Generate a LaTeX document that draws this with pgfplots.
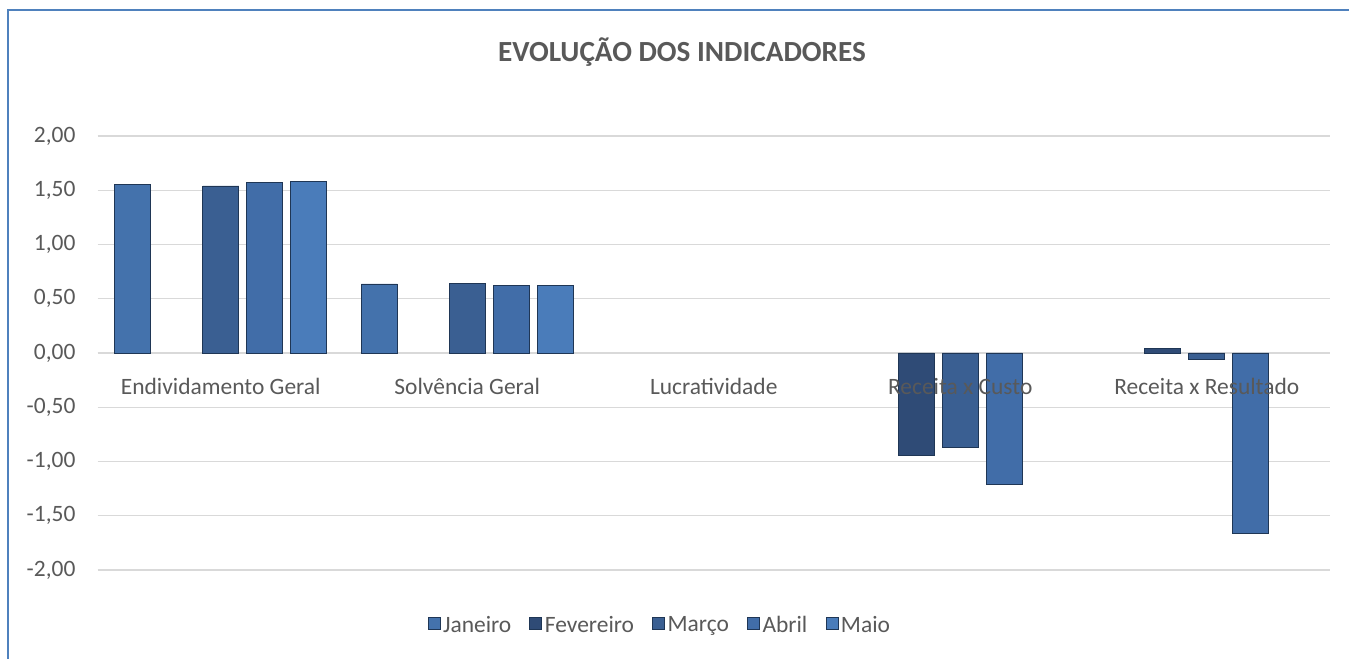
\documentclass[border=0pt]{standalone}
\usepackage{fontspec}
\setmainfont{Carlito}
\usepackage{pgfplots}
\pgfplotsset{compat=1.18}
\definecolor{txt}{HTML}{595959}
\definecolor{gridc}{HTML}{D9D9D9}
\definecolor{framec}{HTML}{4F81BD}
\definecolor{edgec}{HTML}{1F3655}
\definecolor{cJan}{HTML}{4472AC}
\definecolor{cFev}{HTML}{2F4B76}
\definecolor{cMar}{HTML}{3A5F92}
\definecolor{cAbr}{HTML}{416DA8}
\definecolor{cMai}{HTML}{4A7CBA}
\begin{document}
\begin{tikzpicture}[x=1pt,y=1pt]
\useasboundingbox (0,0) rectangle (1011.75,494.25);
\draw[framec, line width=1.5pt] (6,-5) -- (6,486.75) -- (1020,486.75);
\node[text=txt, font=\fontsize{21.9}{26}\selectfont\bfseries] at (511.5,455.25) {EVOLUÇÃO DOS INDICADORES};
\begin{axis}[
  at={(73.125pt,66.75pt)}, anchor=south west,
  scale only axis, width=924.375pt, height=325.5pt,
  xmin=-0.5, xmax=4.5, ymin=-2, ymax=2,
  axis x line=middle, axis y line=left,
  x axis line style={-, draw=gridc, line width=1pt},
  y axis line style={draw=none},
  major tick length=0pt,
  ymajorgrids, grid style={gridc, line width=1pt},
  ytick={-2,-1.5,-1,-0.5,0,0.5,1,1.5,2},
  xtick={0,1,2,3,4},
  xticklabels={},
  hide obscured x ticks=false, hide obscured y ticks=false,
  ticklabel style={font=\fontsize{17.6}{21}\selectfont, text=txt},
  y tick label style={/pgf/number format/fixed, /pgf/number format/fixed zerofill, /pgf/number format/precision=2, /pgf/number format/use comma, /pgf/number format/assume math mode=true, xshift=-13pt},
  ybar=6pt, bar width=27pt,
  legend columns=5,
  legend style={draw=none, fill=none, at={(0.4565,-0.1267)}, anchor=center, font=\fontsize{17.6}{21}\selectfont, text=txt, /tikz/every even column/.append style={column sep=11.6pt}},
  legend image code/.code={\draw[#1,/tikz/.cd,yshift=-0.32em] (0pt,0pt) rectangle (9pt,9pt);},
  every axis plot/.append style={draw=edgec, line width=0.6pt},
]
\addplot[fill=cJan] coordinates {(0,1.556) (1,0.636)};
\addplot[fill=cFev] coordinates {(3,-0.943) (4,0.04)};
\addplot[fill=cMar] coordinates {(0,1.54) (1,0.642) (3,-0.87) (4,-0.06)};
\addplot[fill=cAbr] coordinates {(0,1.575) (1,0.626) (3,-1.21) (4,-1.667)};
\addplot[fill=cMai] coordinates {(0,1.584) (1,0.626)};
\legend{Janeiro, Fevereiro, Março, Abril, Maio}
\begin{scope}[every node/.style={anchor=north, yshift=-15.5pt, text=txt, font=\fontsize{17.6}{21}\selectfont}]
\node at (axis cs:0,0) {Endividamento Geral};
\node at (axis cs:1,0) {Solvência Geral};
\node at (axis cs:2,0) {Lucratividade};
\node at (axis cs:3,0) {Receita x Custo};
\node at (axis cs:4,0) {Receita x Resultado};
\end{scope}
\end{axis}
\end{tikzpicture}
\end{document}
